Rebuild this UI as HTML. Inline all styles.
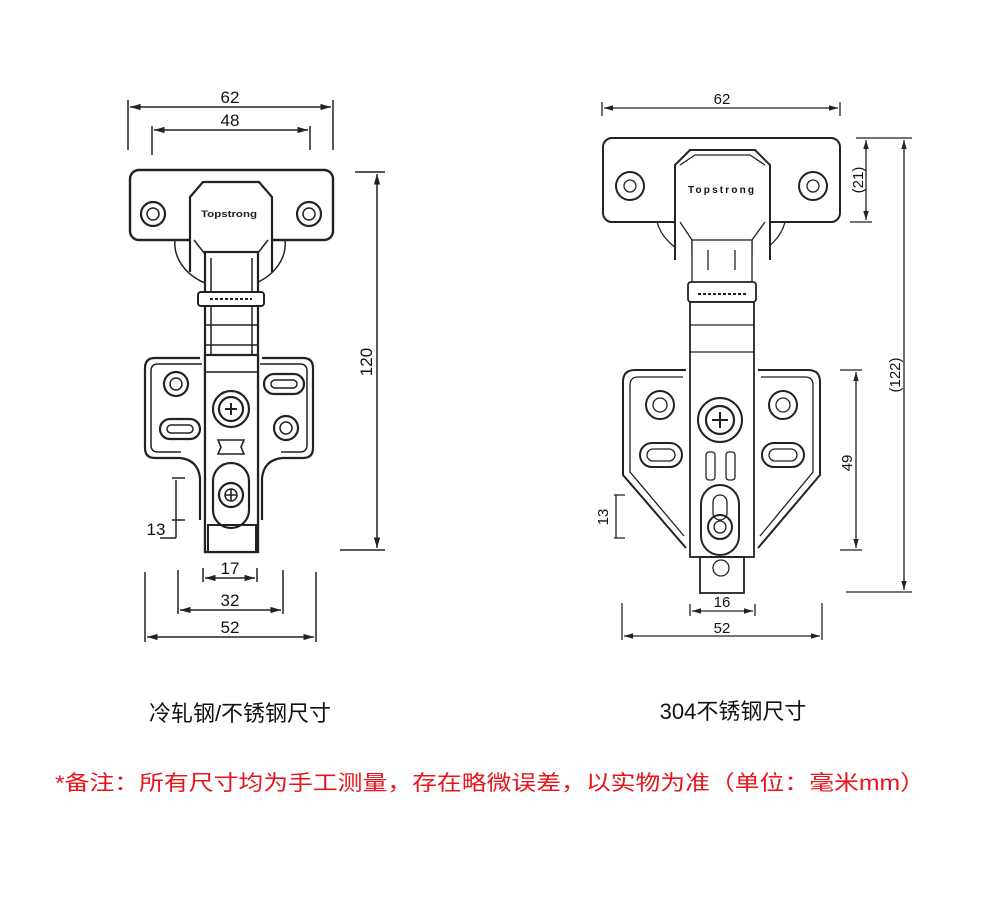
<!DOCTYPE html>
<html><head><meta charset="utf-8"><style>
html,body{margin:0;padding:0;background:#fff;}
svg{display:block;}
text{font-family:"Liberation Sans","Noto Sans CJK SC",sans-serif;}
</style></head><body>
<svg width="990" height="915" viewBox="0 0 990 915" xmlns="http://www.w3.org/2000/svg">
<defs>
<marker id="a" viewBox="0 0 10 10" refX="10" refY="5" markerWidth="7" markerHeight="7" orient="auto-start-reverse"><path d="M0,2 L10,5 L0,8z" fill="#222"/></marker>
</defs>
<rect width="990" height="915" fill="#fff"/>

<!-- ============ LEFT HINGE ============ -->
<g stroke="#222" fill="none" stroke-width="1.5">
  <line x1="128" y1="100" x2="128" y2="150"/><line x1="333" y1="100" x2="333" y2="150"/>
  <line x1="130" y1="107" x2="331" y2="107" marker-start="url(#a)" marker-end="url(#a)"/>
  <line x1="152" y1="126" x2="152" y2="155"/><line x1="310" y1="126" x2="310" y2="150"/>
  <line x1="154" y1="130" x2="308" y2="130" marker-start="url(#a)" marker-end="url(#a)"/>
  <line x1="355" y1="172" x2="385" y2="172"/><line x1="340" y1="550" x2="385" y2="550"/>
  <line x1="377" y1="174" x2="377" y2="548" marker-start="url(#a)" marker-end="url(#a)"/>
  <line x1="172" y1="478" x2="185" y2="478"/><line x1="172" y1="520" x2="185" y2="520"/>
  <line x1="176" y1="480" x2="176" y2="538"/><line x1="160" y1="538" x2="176" y2="538"/>
  <line x1="203" y1="568" x2="203" y2="582"/><line x1="257" y1="568" x2="257" y2="582"/>
  <line x1="205" y1="578" x2="255" y2="578" marker-start="url(#a)" marker-end="url(#a)"/>
  <line x1="178" y1="570" x2="178" y2="614"/><line x1="283" y1="570" x2="283" y2="614"/>
  <line x1="180" y1="610" x2="281" y2="610" marker-start="url(#a)" marker-end="url(#a)"/>
  <line x1="145" y1="572" x2="145" y2="642"/><line x1="316" y1="572" x2="316" y2="642"/>
  <line x1="147" y1="637" x2="314" y2="637" marker-start="url(#a)" marker-end="url(#a)"/>

  <path d="M175,240 A57,45 0 0 0 205,283 M285,240 A57,45 0 0 1 256,283"/>
  <rect x="130" y="170" width="203" height="70" rx="9" stroke-width="2.4"/>
  <circle cx="153" cy="214" r="12" stroke-width="2.2"/><circle cx="153" cy="214" r="6"/>
  <circle cx="309" cy="214" r="12" stroke-width="2.2"/><circle cx="309" cy="214" r="6"/>
  <path d="M190,272 L190,197 L203,182 L259,182 L272,197 L272,272" fill="#fff" stroke-width="2.2"/>
  <path d="M194,240 L208,258 L208,272 M268,240 L254,258 L254,272"/>
  <rect x="205" y="252" width="53" height="300" fill="#fff" stroke-width="2.2"/>
  <line x1="211" y1="258" x2="211" y2="546"/><line x1="252" y1="258" x2="252" y2="546"/>
  <rect x="198" y="292" width="66" height="14" rx="3" fill="#fff" stroke-width="2"/>
  <line x1="210" y1="299" x2="252" y2="299" stroke-dasharray="3,2" stroke-width="2"/>
  <line x1="205" y1="325" x2="258" y2="325"/><line x1="205" y1="345" x2="258" y2="345"/>
  <path d="M200,358 L155,358 Q145,358 145,368 L145,448 Q145,458 155,458 L180,458 Q198,460 200,478 L200,520" stroke-width="2.2"/>
  <path d="M262,358 L303,358 Q313,358 313,368 L313,448 Q313,458 303,458 L282,458 Q264,460 262,478 L262,520" stroke-width="2.2"/>
  <path d="M202,364 L158,364 Q151,364 151,371 L151,445 Q151,452 158,452 L181,452 M260,364 L300,364 Q307,364 307,371 L307,445 Q307,452 300,452 L281,452"/>
  <rect x="205" y="355" width="53" height="197" fill="#fff" stroke-width="2.2"/>
  <line x1="205" y1="372" x2="258" y2="372"/>
  <rect x="208" y="525" width="48" height="27" stroke-width="2"/>
  <circle cx="176" cy="384" r="12" stroke-width="2.2"/><circle cx="176" cy="384" r="6"/>
  <rect x="160" y="419" width="40" height="20" rx="10" stroke-width="2.2"/><rect x="167" y="425" width="26" height="8" rx="4"/>
  <rect x="264" y="374" width="40" height="20" rx="10" stroke-width="2.2"/><rect x="271" y="380" width="26" height="8" rx="4"/>
  <circle cx="286" cy="428" r="12" stroke-width="2.2"/><circle cx="286" cy="428" r="6"/>
  <circle cx="231" cy="409" r="18" stroke-width="2.2"/><circle cx="231" cy="409" r="12" stroke-width="2.2"/>
  <path d="M225,409 L237,409 M231,403 L231,415" stroke-width="2"/>
  <path d="M218,440 L244,440 L241,447 L244,454 L218,454 L221,447z" stroke-width="1.6"/>
  <rect x="213" y="463" width="36" height="65" rx="18" stroke-width="2.2"/>
  <circle cx="231" cy="495" r="12" stroke-width="2.2"/><circle cx="231" cy="495" r="6"/>
  <path d="M225,495 L237,495 M231,489 L231,501" stroke-width="1.6"/>
</g>
<g font-size="17" fill="#111" text-anchor="middle">
  <text x="230" y="103">62</text>
  <text x="230" y="126">48</text>
  <text x="230" y="574">17</text>
  <text x="230" y="606">32</text>
  <text x="230" y="633">52</text>
  <text x="156" y="535">13</text>
  <text transform="translate(372,362) rotate(-90)" text-anchor="middle">120</text>
</g>
<text x="201" y="217" font-size="9" font-weight="bold" fill="#222" textLength="56" lengthAdjust="spacingAndGlyphs">Topstrong</text>

<!-- ============ RIGHT HINGE ============ -->
<g stroke="#222" fill="none" stroke-width="1.3">
  <line x1="602" y1="102" x2="602" y2="116"/><line x1="840" y1="102" x2="840" y2="116"/>
  <line x1="604" y1="108" x2="838" y2="108" marker-start="url(#a)" marker-end="url(#a)"/>
  <line x1="856" y1="138" x2="912" y2="138"/><line x1="850" y1="222" x2="872" y2="222"/>
  <line x1="866" y1="140" x2="866" y2="220" marker-start="url(#a)" marker-end="url(#a)"/>
  <line x1="846" y1="592" x2="912" y2="592"/>
  <line x1="904" y1="140" x2="904" y2="590" marker-start="url(#a)" marker-end="url(#a)"/>
  <line x1="840" y1="370" x2="862" y2="370"/><line x1="840" y1="550" x2="862" y2="550"/>
  <line x1="856" y1="372" x2="856" y2="548" marker-start="url(#a)" marker-end="url(#a)"/>
  <line x1="614" y1="495" x2="625" y2="495"/><line x1="614" y1="538" x2="625" y2="538"/>
  <line x1="616" y1="495" x2="616" y2="538"/>
  <line x1="690" y1="604" x2="690" y2="616"/><line x1="755" y1="604" x2="755" y2="616"/>
  <line x1="692" y1="611" x2="753" y2="611" marker-start="url(#a)" marker-end="url(#a)"/>
  <line x1="622" y1="603" x2="622" y2="640"/><line x1="822" y1="603" x2="822" y2="640"/>
  <line x1="624" y1="636" x2="820" y2="636" marker-start="url(#a)" marker-end="url(#a)"/>

  <path d="M657,222 A62,48 0 0 0 692,256 M785,222 A62,48 0 0 1 752,256"/>
  <rect x="603" y="138" width="237" height="84" rx="9" stroke-width="2"/>
  <circle cx="630" cy="186" r="14" stroke-width="2"/><circle cx="630" cy="186" r="6"/>
  <circle cx="813" cy="186" r="14" stroke-width="2"/><circle cx="813" cy="186" r="6"/>
  <path d="M675,260 L675,165 L690,150 L755,150 L770,165 L770,260" fill="#fff" stroke-width="2"/>
  <path d="M680,165 L695,155 L750,155 L765,165 M680,222 L692,240 L692,255 M765,222 L752,240 L752,255"/>
  <rect x="692" y="240" width="60" height="45" fill="#fff"/>
  <line x1="708" y1="250" x2="708" y2="270"/><line x1="735" y1="250" x2="735" y2="270"/>
  <rect x="688" y="282" width="68" height="20" rx="3" fill="#fff" stroke-width="1.8"/>
  <line x1="698" y1="294" x2="746" y2="294" stroke-dasharray="3,2" stroke-width="2"/>
  <rect x="690" y="302" width="64" height="255" fill="#fff" stroke-width="1.8"/>
  <line x1="690" y1="325" x2="754" y2="325"/><line x1="690" y1="352" x2="754" y2="352"/>
  <path d="M686,370 L635,370 Q623,370 623,382 L623,475 L686,548" stroke-width="2"/>
  <path d="M683,377 L638,377 Q630,377 630,385 L630,472 L684,536"/>
  <path d="M758,370 L808,370 Q820,370 820,382 L820,475 L758,548" stroke-width="2"/>
  <path d="M761,377 L805,377 Q813,377 813,385 L813,472 L760,536"/>
  <circle cx="660" cy="405" r="14" stroke-width="2"/><circle cx="660" cy="405" r="7"/>
  <circle cx="783" cy="405" r="14" stroke-width="2"/><circle cx="783" cy="405" r="7"/>
  <rect x="640" y="443" width="42" height="24" rx="12" stroke-width="2"/><rect x="647" y="449" width="28" height="12" rx="6"/>
  <rect x="762" y="443" width="42" height="24" rx="12" stroke-width="2"/><rect x="769" y="449" width="28" height="12" rx="6"/>
  <circle cx="720" cy="420" r="22" stroke-width="2"/><circle cx="720" cy="420" r="14" stroke-width="2.2"/>
  <path d="M712,420 L728,420 M720,412 L720,428" stroke-width="2"/>
  <rect x="706" y="452" width="9" height="28" rx="3"/><rect x="726" y="452" width="9" height="28" rx="3"/>
  <rect x="701" y="485" width="38" height="70" rx="19" stroke-width="2"/>
  <rect x="713" y="495" width="14" height="25" rx="7"/>
  <circle cx="720" cy="527" r="12" stroke-width="2"/><circle cx="720" cy="527" r="6"/>
  <rect x="700" y="557" width="44" height="36" stroke-width="1.8"/>
  <circle cx="721" cy="568" r="8"/>
</g>
<g font-size="15" fill="#111" text-anchor="middle">
  <text x="722" y="104">62</text>
  <text x="722" y="607">16</text>
  <text x="722" y="633">52</text>
  <text transform="translate(608,517) rotate(-90)">13</text>
  <text transform="translate(852,463) rotate(-90)">49</text>
  <text transform="translate(863,180) rotate(-90)">(21)</text>
  <text transform="translate(900,375) rotate(-90)">(122)</text>
</g>
<text x="688" y="193" font-size="10" font-weight="bold" fill="#111" textLength="66">Topstrong</text>

<text x="240" y="721" font-size="22" fill="#111" text-anchor="middle">冷轧钢/不锈钢尺寸</text>
<text x="733" y="719" font-size="22" fill="#111" text-anchor="middle">304不锈钢尺寸</text>
<text x="55" y="790" font-size="21" fill="#e8141a" textLength="870" lengthAdjust="spacingAndGlyphs">*备注：所有尺寸均为手工测量，存在略微误差，以实物为准（单位：毫米mm）</text>
</svg>
</body></html>
